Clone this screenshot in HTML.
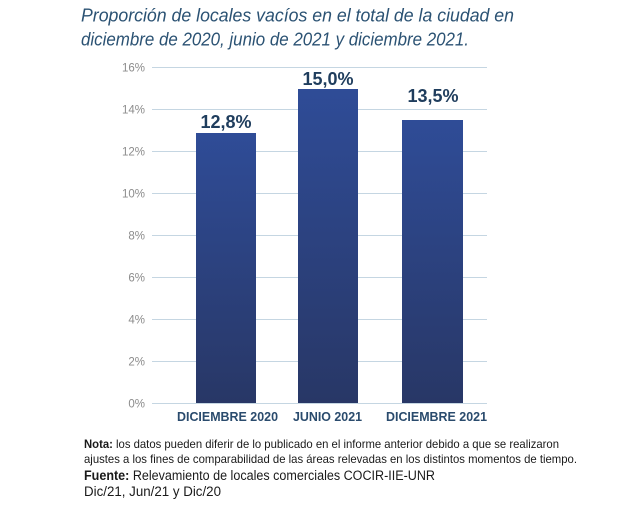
<!DOCTYPE html>
<html>
<head>
<meta charset="utf-8">
<style>
html,body{margin:0;padding:0;background:#fff;}
svg{display:block;}
</style>
</head>
<body>
<svg width="631" height="507" viewBox="0 0 631 507" xmlns="http://www.w3.org/2000/svg">
  <defs>
    <linearGradient id="bar" x1="0" y1="0" x2="0" y2="1">
      <stop offset="0" stop-color="#2f4c97"/>
      <stop offset="1" stop-color="#283766"/>
    </linearGradient>
  </defs>
  <rect width="631" height="507" fill="#fff"/>

  <!-- Title -->
  <g font-family="Liberation Sans, sans-serif" font-style="italic" font-size="18" fill="#2b5273">
    <text x="81" y="21.5" textLength="433" lengthAdjust="spacingAndGlyphs">Proporción de locales vacíos en el total de la ciudad en</text>
    <text x="81" y="45.5" textLength="388" lengthAdjust="spacingAndGlyphs">diciembre de 2020, junio de 2021 y diciembre 2021.</text>
  </g>

  <!-- Gridlines -->
  <g stroke="#c5d6e2" stroke-width="1">
    <line x1="152" y1="67.5" x2="487" y2="67.5"/>
    <line x1="152" y1="109.5" x2="487" y2="109.5"/>
    <line x1="152" y1="151.5" x2="487" y2="151.5"/>
    <line x1="152" y1="193.5" x2="487" y2="193.5"/>
    <line x1="152" y1="235.5" x2="487" y2="235.5"/>
    <line x1="152" y1="277.5" x2="487" y2="277.5"/>
    <line x1="152" y1="319.5" x2="487" y2="319.5"/>
    <line x1="152" y1="361.5" x2="487" y2="361.5"/>
    <line x1="152" y1="403.5" x2="487" y2="403.5"/>
  </g>

  <!-- Y tick labels -->
  <g font-family="Liberation Sans, sans-serif" font-size="11.5" fill="#8c8c8c" text-anchor="end">
    <text x="145" y="71.5">16%</text>
    <text x="145" y="113.5">14%</text>
    <text x="145" y="155.5">12%</text>
    <text x="145" y="197.5">10%</text>
    <text x="145" y="239.5">8%</text>
    <text x="145" y="281.5">6%</text>
    <text x="145" y="323.5">4%</text>
    <text x="145" y="365.5">2%</text>
    <text x="145" y="407.5">0%</text>
  </g>

  <!-- Bars -->
  <rect x="196" y="133" width="60" height="270" fill="url(#bar)"/>
  <rect x="298" y="89" width="60" height="314" fill="url(#bar)"/>
  <rect x="402" y="120" width="61" height="283" fill="url(#bar)"/>

  <!-- Value labels -->
  <g font-family="Liberation Sans, sans-serif" font-weight="bold" font-size="18" fill="#1f3d5d" text-anchor="middle">
    <text x="226" y="128">12,8%</text>
    <text x="328" y="85">15,0%</text>
    <text x="433" y="102">13,5%</text>
  </g>

  <!-- X labels -->
  <g font-family="Liberation Sans, sans-serif" font-weight="bold" font-size="12.5" fill="#2a4b6d" text-anchor="middle">
    <text x="227.5" y="421" textLength="101" lengthAdjust="spacingAndGlyphs">DICIEMBRE 2020</text>
    <text x="327.5" y="421" textLength="69" lengthAdjust="spacingAndGlyphs">JUNIO 2021</text>
    <text x="436.5" y="421" textLength="101" lengthAdjust="spacingAndGlyphs">DICIEMBRE 2021</text>
  </g>

  <!-- Notes -->
  <g font-family="Liberation Sans, sans-serif" fill="#1a1a1a">
    <text x="84" y="448" font-size="12" textLength="475" lengthAdjust="spacingAndGlyphs"><tspan font-weight="bold">Nota:</tspan> los datos pueden diferir de lo publicado en el informe anterior debido a que se realizaron</text>
    <text x="84" y="463" font-size="12" textLength="493" lengthAdjust="spacingAndGlyphs">ajustes a los fines de comparabilidad de las áreas relevadas en los distintos momentos de tiempo.</text>
    <text x="84" y="480" font-size="13.5" textLength="351" lengthAdjust="spacingAndGlyphs"><tspan font-weight="bold">Fuente:</tspan> Relevamiento de locales comerciales COCIR-IIE-UNR</text>
    <text x="84" y="496" font-size="13.5" textLength="137" lengthAdjust="spacingAndGlyphs">Dic/21, Jun/21 y Dic/20</text>
  </g>
</svg>
</body>
</html>
